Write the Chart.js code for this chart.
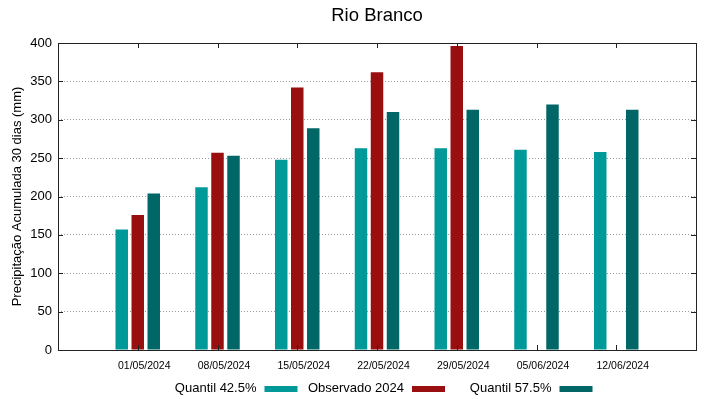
<!DOCTYPE html>
<html>
<head>
<meta charset="utf-8">
<title>Rio Branco</title>
<script src="https://cdn.jsdelivr.net/npm/chart.js@4"></script>
<style>
    html, body { margin: 0; padding: 0; background: #fff; }
</style>
</head>
<body>
<canvas id="rainChart" width="719" height="399"></canvas>
<script>
const chartTitle = 'Rio Branco';
const dates = ['01/05/2024', '08/05/2024', '15/05/2024', '22/05/2024', '29/05/2024', '05/06/2024', '12/06/2024'];
const quantil425 = [157, 212, 248, 263, 263, 261, 258];
const observado2024 = [176, 257, 342, 362, 396, null, null];
const quantil575 = [204, 253, 289, 310, 313, 320, 313];
const yTicks = [0, 50, 100, 150, 200, 250, 300, 350, 400];

// gnuplot style: one empty slot on each side of the dates
const pad = arr => [null, ...arr, null];

const FONT = '"Liberation Sans", Arial, sans-serif';
Chart.defaults.font.family = FONT;
Chart.defaults.color = '#000';

// box around the plot, inward ticks on all sides, title and legend
const gnuplotLook = {
    id: 'gnuplotLook',
    afterDatasetsDraw(chart) {
        const { ctx, chartArea: a, scales: { x, y } } = chart;
        ctx.save();
        ctx.strokeStyle = '#222';
        ctx.lineWidth = 1;
        ctx.strokeRect(a.left + 0.5, a.top + 0.5, a.right - a.left, a.bottom - a.top);
        ctx.beginPath();
        dates.forEach((d, i) => {
            const px = Math.round(x.getPixelForValue(i + 1)) + 0.5;
            ctx.moveTo(px, a.top); ctx.lineTo(px, a.top + 5);
            ctx.moveTo(px, a.bottom); ctx.lineTo(px, a.bottom - 5);
        });
        yTicks.forEach(v => {
            const py = Math.round(y.getPixelForValue(v)) + 0.5;
            ctx.moveTo(a.left, py); ctx.lineTo(a.left + 5, py);
            ctx.moveTo(a.right, py); ctx.lineTo(a.right - 5, py);
        });
        ctx.stroke();
        ctx.restore();
    },
    afterDraw(chart) {
        const { ctx, chartArea: a } = chart;
        const cx = (a.left + a.right) / 2;
        ctx.save();
        ctx.fillStyle = '#000';
        ctx.textAlign = 'center';
        ctx.textBaseline = 'middle';
        ctx.font = '18.5px ' + FONT;
        ctx.fillText(chartTitle, cx, 16);

        // legend: label on the left, colour sample on the right
        ctx.font = '13px ' + FONT;
        ctx.textAlign = 'right';
        const ly = a.bottom + 38;
        chart.data.datasets.forEach((ds, i) => {
            const boxLeft = cx + 35 + (i - 1) * 147.5;
            ctx.fillStyle = '#000';
            ctx.fillText(ds.label, boxLeft - 8, ly);
            ctx.fillStyle = ds.backgroundColor;
            ctx.fillRect(boxLeft, ly - 2, 33, 6);
        });
        ctx.restore();
    }
};

new Chart(document.getElementById('rainChart'), {
    type: 'bar',
    data: {
        labels: pad(dates).map(d => d || ''),
        datasets: [
            { label: 'Quantil 42.5%', data: pad(quantil425), backgroundColor: '#009999' },
            { label: 'Observado 2024', data: pad(observado2024), backgroundColor: '#990f0f' },
            { label: 'Quantil 57.5%', data: pad(quantil575), backgroundColor: '#006666' }
        ]
    },
    options: {
        responsive: false,
        animation: false,
        categoryPercentage: 0.602,
        barPercentage: 0.78,
        layout: { padding: { top: 43, right: 23, left: 0, bottom: 0 } },
        plugins: {
            legend: { display: false },
            title: { display: false },
            tooltip: { enabled: false }
        },
        scales: {
            x: {
                offset: false,
                grid: { display: false, drawTicks: false },
                border: { display: false },
                ticks: { font: { size: 10.5 }, padding: 10, labelOffset: 6.5, maxRotation: 0, autoSkip: false },
                afterFit(scale) { scale.height = 49; }
            },
            y: {
                min: 0,
                max: 400,
                afterBuildTicks(scale) { scale.ticks = yTicks.map(v => ({ value: v })); },
                grid: { color: '#9a9a9a', drawTicks: false },
                border: { display: false, dash: [1, 2] },
                ticks: { font: { size: 13 }, padding: 6 },
                title: {
                    display: true,
                    text: 'Precipitação Acumulada 30 dias (mm)',
                    font: { size: 13 },
                    padding: { top: 10, bottom: 0 }
                },
                afterFit(scale) { scale.width = 58; }
            }
        }
    },
    plugins: [gnuplotLook]
});
</script>
</body>
</html>
